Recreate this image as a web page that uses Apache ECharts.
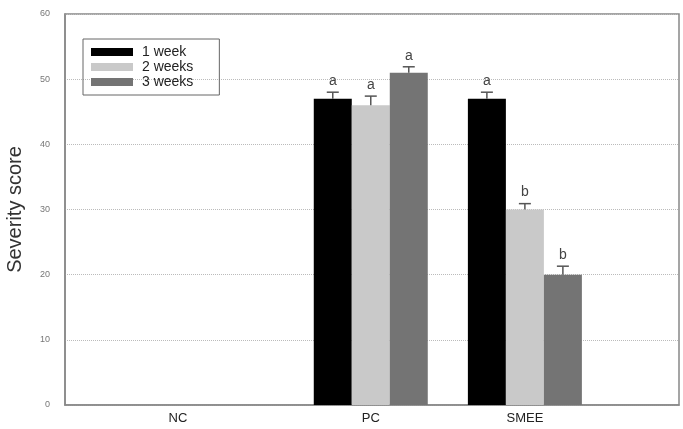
<!DOCTYPE html>
<html>
<head>
<meta charset="utf-8">
<script src="https://cdn.jsdelivr.net/npm/echarts@6/dist/echarts.min.js"></script>
<style>
  html, body { margin: 0; padding: 0; background: #fff; }
  #chart { width: 683px; height: 429px; }
</style>
</head>
<body>
<div id="chart"></div>
<script>
// data
var groups = ['NC', 'PC', 'SMEE'];
var weeks = ['1 week', '2 weeks', '3 weeks'];
var week1 = [null, 47, 47];
var week2 = [null, 46, 30];
var week3 = [null, 51, 20];
var err1 = [null, 1.0, 1.0];
var err2 = [null, 1.4, 0.9];
var err3 = [null, 0.9, 1.3];
var sig1 = ['', 'a', 'a'];
var sig2 = ['', 'a', 'b'];
var sig3 = ['', 'a', 'b'];
var yTicks = [0, 10, 20, 30, 40, 50, 60];

// where each group sits along the x axis (0..100 of the plot width)
var groupPos = [18.4, 49.8, 74.9];
var BAR_W = 38;
var colors = ['#000000', '#c9c9c9', '#747474'];

var values = [week1, week2, week3];
var errs = [err1, err2, err3];
var sigs = [sig1, sig2, sig3];

var chart = echarts.init(document.getElementById('chart'));

function barData(k) {
    var out = [];
    for (var i = 0; i < groups.length; i++) {
        if (values[k][i] != null) out.push([groupPos[i], values[k][i]]);
    }
    return out;
}
function errData(k) {
    var out = [];
    for (var i = 0; i < groups.length; i++) {
        if (values[k][i] != null) out.push([groupPos[i], values[k][i], errs[k][i], sigs[k][i]]);
    }
    return out;
}

// error bar + cap + significance letter, shifted onto the k-th bar of the group
function errRender(k) {
    return function (params, api) {
        var x = api.value(0), y = api.value(1), e = api.value(2);
        var off = (k - 1) * BAR_W;
        var p0 = api.coord([x, y]);
        var p1 = api.coord([x, y + e]);
        var cx = p0[0] + off;
        var st = { stroke: '#555', lineWidth: 1.5 };
        return {
            type: 'group',
            children: [
                { type: 'line', shape: { x1: cx, y1: p0[1], x2: cx, y2: p1[1] }, style: st },
                { type: 'line', shape: { x1: cx - 6, y1: p1[1], x2: cx + 6, y2: p1[1] }, style: st },
                { type: 'text', x: cx, y: p1[1] - 4,
                  style: { text: api.value(3), fill: '#444', font: '14px "Liberation Sans", Arial, sans-serif',
                           align: 'center', verticalAlign: 'bottom' } }
            ]
        };
    };
}

var series = [];
for (var k = 0; k < 3; k++) {
    series.push({
        name: weeks[k],
        type: 'bar',
        barWidth: BAR_W,
        barGap: '0%',
        itemStyle: { color: colors[k] },
        data: barData(k)
    });
}
for (var k = 0; k < 3; k++) {
    series.push({
        name: 'err' + k,
        type: 'custom',
        renderItem: errRender(k),
        z: 5,
        encode: { x: 0, y: 1 },
        data: errData(k)
    });
}

var option = {
    animation: false,
    backgroundColor: '#fff',
    textStyle: { fontFamily: '"Liberation Sans", Arial, sans-serif' },
    grid: {
        left: 65, right: 4, top: 14, bottom: 24,
        outerBoundsMode: 'none',
        containLabel: false,
        show: true, borderColor: '#888', borderWidth: 1.5
    },
    legend: {
        data: weeks,
        orient: 'vertical',
        left: 83, top: 39,
        padding: [6, 26, 6, 8],
        borderColor: '#666', borderWidth: 1,
        icon: 'rect',
        itemWidth: 42, itemHeight: 8, itemGap: 1,
        textStyle: { fontSize: 14, color: '#222', lineHeight: 14, padding: [0, 0, 0, 4] }
    },
    xAxis: {
        type: 'value',
        min: 0, max: 100,
        axisLine: { show: true, lineStyle: { color: '#888', width: 1.5 } },
        axisTick: { show: false },
        splitLine: { show: false },
        axisLabel: {
            customValues: groupPos,
            margin: 7,
            fontSize: 13,
            color: '#222',
            formatter: function (v) {
                var best = 0;
                for (var i = 1; i < groupPos.length; i++) {
                    if (Math.abs(groupPos[i] - v) < Math.abs(groupPos[best] - v)) best = i;
                }
                return groups[best];
            }
        }
    },
    yAxis: {
        type: 'value',
        min: yTicks[0], max: yTicks[yTicks.length - 1], interval: 10,
        name: 'Severity score',
        nameLocation: 'middle',
        nameGap: 40,
        nameTextStyle: { fontSize: 20, color: '#333' },
        axisLine: { show: true, lineStyle: { color: '#888', width: 1.5 } },
        axisTick: { show: false },
        axisLabel: { fontSize: 9, color: '#777', margin: 15 },
        splitLine: { show: true, lineStyle: { color: '#bbb', type: 'dotted', width: 1 } }
    },
    series: series
};

chart.setOption(option);
</script>
</body>
</html>
